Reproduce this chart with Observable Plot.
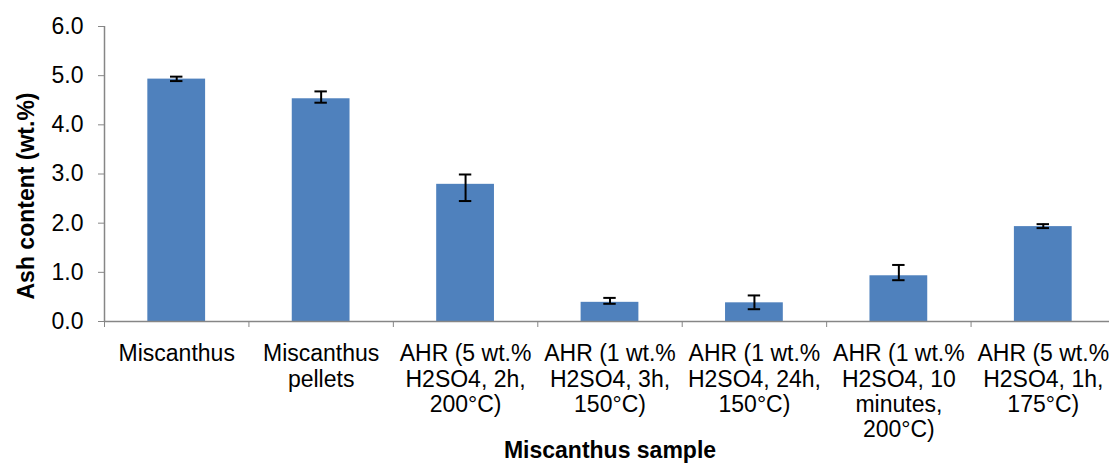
<!DOCTYPE html>
<html>
<head>
<meta charset="utf-8">
<script src="https://cdn.jsdelivr.net/npm/d3@7"></script>
<script src="https://cdn.jsdelivr.net/npm/@observablehq/plot@0.6"></script>
<style>
  html, body { margin: 0; padding: 0; background: #fff; overflow: hidden; }
  #chart { width: 1109px; height: 464px; overflow: hidden; }
</style>
</head>
<body>
<div id="chart"></div>
<script>
// ---- data ----
const categories = [
  "Miscanthus",
  "Miscanthus\npellets",
  "AHR (5 wt.%\nH2SO4, 2h,\n200°C)",
  "AHR (1 wt.%\nH2SO4, 3h,\n150°C)",
  "AHR (1 wt.%\nH2SO4, 24h,\n150°C)",
  "AHR (1 wt.%\nH2SO4, 10\nminutes,\n200°C)",
  "AHR (5 wt.%\nH2SO4, 1h,\n175°C)"
];
const ashContent = [4.93, 4.53, 2.79, 0.39, 0.38, 0.93, 1.93];
const errorLow   = [4.89, 4.45, 2.45, 0.36, 0.25, 0.84, 1.90];
const errorHigh  = [4.98, 4.68, 2.99, 0.48, 0.53, 1.15, 1.98];
const yTicks = [0, 1, 2, 3, 4, 5, 6];
const yTitle = "Ash content (wt.%)";
const xTitle = "Miscanthus sample";

const data = categories.map((label, i) => ({
  i, label, value: ashContent[i], lo: errorLow[i], hi: errorHigh[i]
}));
const boundaries = d3.range(categories.length + 1);

const axisGray = "#868686";
const barBlue = "#4f81bd";
const font = "'Liberation Sans', Arial, sans-serif";

const chart = Plot.plot({
  width: 1109,
  height: 464,
  marginLeft: 104,
  marginRight: -6,
  marginTop: 26,
  marginBottom: 143,
  style: { fontFamily: font, fontSize: "23px", color: "#000", background: "#fff", overflow: "hidden" },
  x: { domain: [0, categories.length], axis: null },
  y: { domain: [0, 6], axis: null },
  marks: [
    Plot.rectY(data, {
      x1: d => d.i + 0.3, x2: d => d.i + 0.7, y1: 0, y2: "value",
      fill: barBlue
    }),
    Plot.ruleX(data, { x: d => d.i + 0.5, y1: "lo", y2: "hi", stroke: "#000", strokeWidth: 2 }),
    Plot.ruleY(data, { y: "lo", x1: d => d.i + 0.5 - 0.043, x2: d => d.i + 0.5 + 0.043, stroke: "#000", strokeWidth: 2 }),
    Plot.ruleY(data, { y: "hi", x1: d => d.i + 0.5 - 0.043, x2: d => d.i + 0.5 + 0.043, stroke: "#000", strokeWidth: 2 }),
    Plot.ruleX([0], { stroke: axisGray, strokeWidth: 1.5 }),
    Plot.ruleY([0], { stroke: axisGray, strokeWidth: 1.5 }),
    Plot.axisY({
      ticks: yTicks, tickFormat: d3.format(".1f"), tickSize: 6, tickPadding: 15,
      stroke: axisGray, fill: "#000", fontSize: 23, label: null
    }),
    Plot.axisX({
      ticks: boundaries, tickFormat: () => "", tickSize: 6,
      stroke: axisGray, label: null
    }),
    Plot.text(data, {
      x: d => d.i + 0.5, y: 0, text: "label",
      lineAnchor: "top", dy: 22, lineHeight: 1.1,
      fontSize: 23, fill: "#000"
    }),
    Plot.text([xTitle], {
      frameAnchor: "bottom", text: d => d, lineAnchor: "middle", textAnchor: "middle", dy: 129,
      fontSize: 23, fontWeight: "bold", fill: "#000"
    }),
    Plot.text([yTitle], {
      frameAnchor: "left", text: d => d, rotate: -90, textAnchor: "middle", lineAnchor: "middle",
      dx: -78, dy: 22,
      fontSize: 23, fontWeight: "bold", fill: "#000"
    })
  ]
});
document.getElementById("chart").appendChild(chart);
</script>
</body>
</html>
